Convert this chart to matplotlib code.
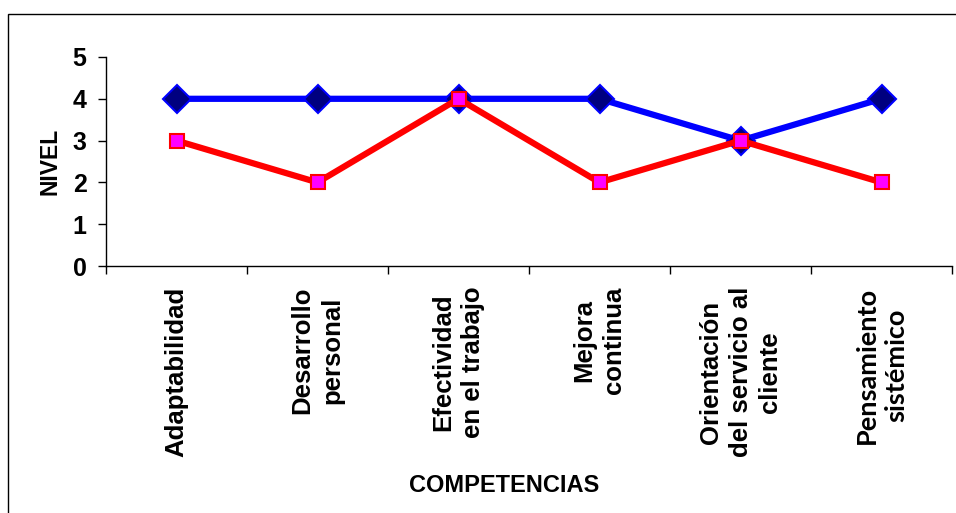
import numpy as np
import matplotlib
matplotlib.use("Agg")
import matplotlib.pyplot as plt
from matplotlib.patches import Rectangle

# data
competencias = [
    "Adaptabilidad",
    "Desarrollo\npersonal",
    "Efectividad\nen el trabajo",
    "Mejora\ncontinua",
    "Orientación\ndel servicio al\ncliente",
    "Pensamiento\nsistémico",
]
nivel_requerido = [4, 4, 4, 4, 3, 4]
nivel_actual = [3, 2, 4, 2, 3, 2]
y_ticks = [0, 1, 2, 3, 4, 5]

plt.rcParams["font.family"] = ["Liberation Sans", "DejaVu Sans"]
plt.rcParams["font.weight"] = "bold"

fig = plt.figure(figsize=(9.56, 5.13), dpi=100)
W, H = 956, 513

# outer frame of the chart area (cut off at right/bottom like the source)
fig.patches.append(Rectangle((8 / W, -0.05), 1.2, (H - 14) / H + 0.05,
                             transform=fig.transFigure, fill=False,
                             edgecolor="black", linewidth=1.0))

ax = fig.add_axes([106 / W, (H - 266) / H, (952 - 106) / W, (266 - 57) / H])

x = np.arange(len(competencias))
ax.plot(x, nivel_requerido, color="#0000FF", linewidth=4.5, marker="D",
        markersize=14, markerfacecolor="#000080", markeredgecolor="#0000FF",
        markeredgewidth=1.5, zorder=3, clip_on=False)
ax.plot(x, nivel_actual, color="#FF0000", linewidth=4.5, marker="s",
        markersize=10, markerfacecolor="#FF00FF", markeredgecolor="#FF0000",
        markeredgewidth=1.5, zorder=4, clip_on=False)

ax.set_xlim(-0.5, len(competencias) - 0.5)
ax.set_ylim(0, 5)
ax.set_yticks(y_ticks)
ax.set_yticklabels([str(v) for v in y_ticks], fontsize=18, fontweight="bold")

# ticks between categories, labels centred on categories
ax.set_xticks(np.arange(len(competencias) + 1) - 0.5)
ax.set_xticklabels([])
ax.set_xticks(x, minor=True)
ax.set_xticklabels(competencias, minor=True, rotation=90, fontsize=18.5,
                   fontweight="bold", va="top", ha="center",
                   multialignment="center", linespacing=1.3)
ax.tick_params(axis="x", which="minor", length=0, pad=15)
ax.tick_params(axis="x", which="major", length=6, width=1, direction="out")
ax.tick_params(axis="y", length=6, width=1, direction="out", pad=8)
# last label uses a different typeface in the source
for lab in ax.xaxis.get_minorticklabels():
    if lab.get_text().startswith("Pensamiento"):
        lab.set_fontfamily(["Lato", "DejaVu Sans"])
        lab.set_fontsize(19.5)

for side in ("top", "right"):
    ax.spines[side].set_visible(False)
for side in ("left", "bottom"):
    ax.spines[side].set_linewidth(1)

ax.set_xlabel("COMPETENCIAS", fontsize=17, fontweight="bold")
ax.xaxis.set_label_coords((504 - 106) / 846, (266 - 485) / 209)
ax.xaxis.label.set_va("center")
ax.set_ylabel("NIVEL", fontsize=16.5, fontweight="bold")
ax.yaxis.set_label_coords((50 - 106) / 846, 0.5)
ax.yaxis.label.set_va("center")

fig.savefig("out.png", dpi=100)
